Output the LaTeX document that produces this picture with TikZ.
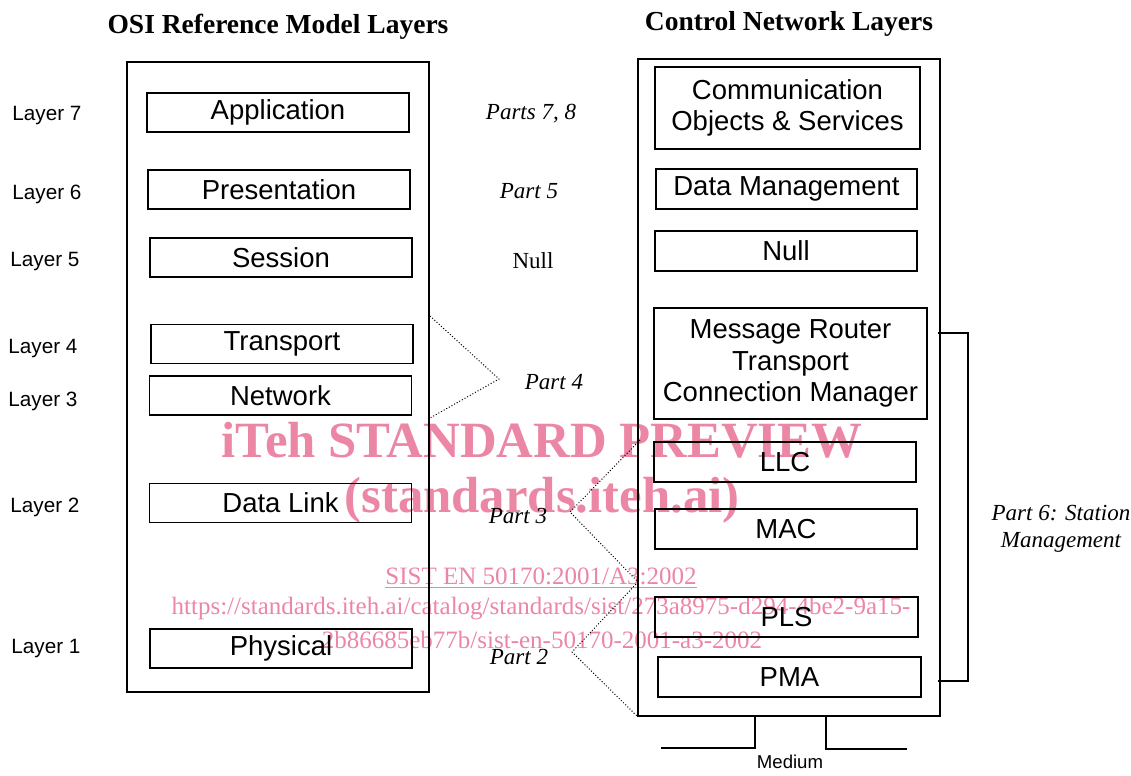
\documentclass[tikz,border=0pt]{standalone}
\usepackage{fontspec}
\setmainfont{Liberation Serif}
\setsansfont{Liberation Sans}
\usetikzlibrary{calc}
\definecolor{wmpink}{RGB}{236,134,165}
\tikzset{
  outerbox/.style={draw, line width=1.3pt, inner sep=0pt},
  layerbox/.style={draw, line width=0.9pt, inner sep=0pt, minimum width=131pt, minimum height=19.5pt,
    align=center, font=\sffamily\fontsize{13.75}{15.8}\selectfont},
  layerlab/.style={font=\sffamily\fontsize{10.35}{12}\selectfont},
  partlab/.style={font=\itshape\fontsize{11.5}{13.5}\selectfont, align=center},
  headlab/.style={font=\bfseries\fontsize{13.75}{16}\selectfont},
  partline/.style={densely dotted, line width=0.5pt},
  wmark/.style={text=wmpink, font=\fontsize{12.5}{15}\selectfont}
}
\begin{document}
\begin{tikzpicture}[x=0.5pt, y=-0.5pt]
\useasboundingbox (0,0) rectangle (1131,776);
% watermark
\node[wmark, font=\bfseries\fontsize{25.4}{30}\selectfont] (wm1) at (542,440) {iTeh STANDARD PREVIEW};
\node[wmark, font=\bfseries\fontsize{25.4}{30}\selectfont] (wm2) at (542,500) {(standards.iteh.ai)};
\node[wmark] (wm3) at (541,578) {\underline{SIST EN 50170:2001/A3:2002}};
\node[wmark] (wm4) at (541,609) {https://standards.iteh.ai/catalog/standards/sist/273a8975-d294-4be2-9a15-};
\node[wmark] (wm5) at (542,640) {2b86685eb77b/sist-en-50170-2001-a3-2002};

% titles
\node[headlab] (osititle) at (278,27) {OSI Reference Model Layers};
\node[headlab] (cntitle) at (789,24) {Control Network Layers};

% OSI stack
\node[outerbox, minimum width=151pt, minimum height=315pt] (osi) at (278,377) {};
\node[layerbox] (app) at (278,112.5) {Application};
\node[layerbox] (pres) at (279,189.5) {Presentation};
\node[layerbox] (ses) at (281,257.5) {Session};
\node[layerbox] (tra) at (282,344) {Transport};
\node[layerbox] (net) at (280.5,395.5) {Network};
\node[layerbox] (dl) at (280.5,503) {Data Link};
\node[layerbox] (phy) at (281,648.5) {Physical};

\node[layerlab] (l7) at (47,116) {Layer 7};
\node[layerlab] (l6) at (47,194) {Layer 6};
\node[layerlab] (l5) at (45,262) {Layer 5};
\node[layerlab] (l4) at (43,349) {Layer 4};
\node[layerlab] (l3) at (43,401) {Layer 3};
\node[layerlab] (l2) at (45,507) {Layer 2};
\node[layerlab] (l1) at (46,649) {Layer 1};

% control network stack
\node[outerbox, minimum width=151pt, minimum height=328.5pt] (cn) at (789,387.5) {};
\node[layerbox, minimum width=132.5pt, minimum height=41pt] (cos) at (787.5,108) {Communication\\Objects \& Services};
\node[layerbox, minimum width=130.5pt, minimum height=20pt] (dm) at (786.5,189) {Data Management};
\node[layerbox, minimum width=131pt, minimum height=20pt] (nul) at (786,251) {Null};
\node[layerbox, minimum width=136.5pt, minimum height=55.5pt] (mr) at (790.5,363.5) {Message Router\\Transport\\Connection Manager};
\node[layerbox, minimum width=131pt, minimum height=20pt] (llc) at (785,462) {LLC};
\node[layerbox, minimum width=131pt, minimum height=20pt] (mac) at (786,529) {MAC};
\node[layerbox, minimum width=131.5pt, minimum height=20pt] (pls) at (786.5,617) {PLS};
\node[layerbox, minimum width=131.5pt, minimum height=20pt] (pma) at (789.5,677) {PMA};

% part labels
\node[partlab] (p78) at (531,114) {Parts 7, 8};
\node[partlab] (p5) at (529,191) {Part 5};
\node[partlab, font=\fontsize{11.5}{13.5}\selectfont] (pnull) at (533,261) {Null};
\node[partlab] (p4) at (554,382) {Part 4};
\node[partlab] (p3) at (518,516) {Part 3};
\node[partlab] (p2) at (519,657) {Part 2};
\node[partlab] (p6) at (1061,529) {Part 6: Station\\Management};

% dotted connectors
\coordinate (p4top) at (430,316);
\coordinate (p4tip) at (499,379);
\coordinate (p4bot) at (430,418);
\draw[partline] (p4top) -- (p4tip) -- (p4bot);
\coordinate (p3top) at (640,440);
\coordinate (p3tip) at (570,512);
\coordinate (p32) at (638,582);
\coordinate (p2tip) at (572,652);
\coordinate (p2bot) at (638,717);
\draw[partline] (p3top) -- (p3tip) -- (p32) -- (p2tip) -- (p2bot);

% station management bracket
\coordinate (smtop) at (938,333);
\coordinate (smbot) at (938,681);
\draw[line width=0.9pt] (smtop) -- ++(30,0) |- (smbot);

% medium
\coordinate (mleft) at (661,748);
\coordinate (mright) at (907,749);
\draw[line width=0.9pt] (mleft) -| (cn.south -| 755,0);
\draw[line width=0.9pt] (mright) -| (cn.south -| 826,0);
\node[font=\sffamily\fontsize{9.3}{11}\selectfont] (med) at (790,762) {Medium};
\end{tikzpicture}
\end{document}
